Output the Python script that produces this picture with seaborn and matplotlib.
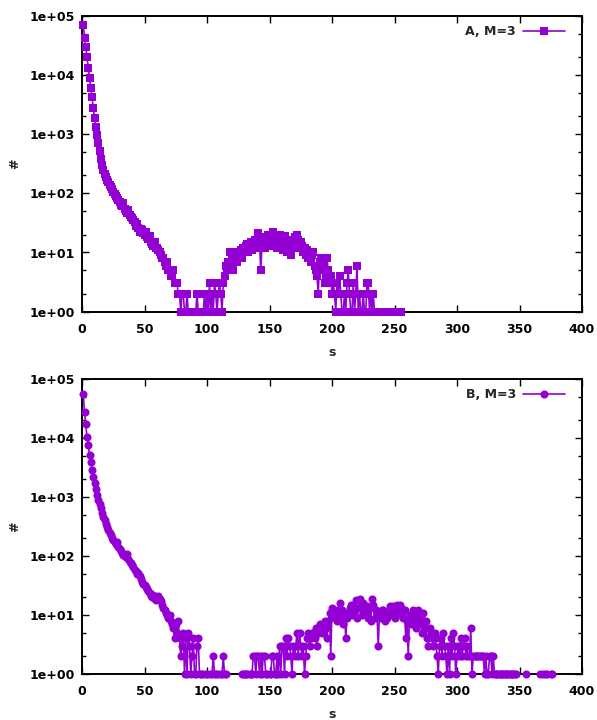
import numpy as np
import pandas as pd
import matplotlib
matplotlib.use("Agg")
import matplotlib.pyplot as plt
import matplotlib.ticker as mticker
import seaborn as sns

# ---------------- data (counts per s, 0 = no entry) ----------------
counts_A = [
    70000, 42000, 30000, 20000, 13000, 9000, 6000, 4200, 2800, 1900,
    1300, 950, 700, 520, 380, 300, 250, 215, 190, 170,
    155, 140, 128, 118, 105, 98, 90, 82, 76, 70,
    64, 60, 68, 55, 50, 47, 52, 43, 40, 38,
    35, 33, 28, 30, 26, 22, 25, 24, 21, 20,
    22, 18, 17, 19, 15, 14, 13, 15, 12, 12,
    11, 10, 9, 8, 8, 7, 6, 7, 5, 5,
    4, 4, 5, 3, 3, 3, 2, 2, 1, 2,
    2, 1, 1, 2, 1, 1, 0, 1, 1, 1,
    1, 2, 1, 0, 0, 1, 1, 2, 1, 2,
    1, 3, 1, 2, 1, 3, 2, 1, 2, 3,
    2, 1, 3, 4, 6, 5, 7, 10, 6, 8,
    5, 9, 8, 7, 10, 9, 11, 8, 12, 10,
    13, 14, 10, 12, 15, 11, 13, 16, 12, 14,
    21, 15, 5, 13, 18, 12, 16, 14, 20, 13,
    17, 15, 22, 14, 18, 12, 16, 20, 13, 17,
    11, 19, 14, 10, 16, 13, 9, 15, 12, 18,
    14, 20, 16, 12, 15, 13, 10, 12, 9, 11,
    8, 10, 7, 9, 10, 6, 5, 4, 2, 7,
    8, 5, 6, 3, 4, 8, 5, 3, 4, 2,
    3, 2, 1, 3, 2, 4, 2, 1, 1, 2,
    1, 3, 5, 2, 1, 1, 3, 1, 2, 6,
    1, 2, 1, 1, 2, 1, 1, 3, 3, 1,
    2, 1, 2, 1, 1, 0, 1, 0, 1, 1,
    0, 1, 1, 0, 1, 0, 1, 1, 0, 1,
    0, 1, 0, 1, 1,
]

counts_B = [
    55000, 28000, 17000, 10500, 7600, 5100, 3900, 2900, 2200, 1700,
    1350, 1100, 900, 760, 640, 540, 460, 400, 350, 310,
    280, 250, 225, 205, 190, 175, 160, 170, 140, 130,
    120, 112, 105, 100, 96, 110, 88, 80, 76, 70,
    66, 58, 55, 50, 52, 46, 40, 36, 34, 32,
    30, 28, 26, 24, 21, 20, 22, 19, 18, 20,
    21, 19, 17, 15, 13, 12, 11, 10, 9, 10,
    8, 7, 6, 4, 7, 5, 8, 4, 2, 3,
    5, 1, 4, 1, 5, 3, 1, 2, 4, 1,
    1, 3, 4, 1, 1, 0, 1, 0, 1, 1,
    0, 1, 0, 1, 2, 1, 1, 0, 1, 0,
    1, 1, 2, 1, 1, 0, 0, 0, 0, 0,
    0, 0, 0, 0, 0, 0, 0, 1, 1, 1,
    1, 1, 0, 1, 1, 1, 2, 2, 1, 2,
    2, 1, 2, 1, 2, 2, 1, 1, 0, 1,
    1, 2, 2, 1, 1, 2, 1, 3, 1, 3,
    3, 1, 4, 2, 4, 3, 2, 1, 3, 2,
    3, 5, 2, 5, 3, 2, 3, 1, 2, 4,
    5, 3, 4, 5, 5, 4, 6, 3, 5, 7,
    6, 5, 7, 8, 6, 4, 8, 11, 2, 13,
    10, 9, 12, 8, 10, 16, 9, 12, 7, 11,
    4, 9, 11, 13, 15, 10, 14, 12, 18, 9,
    13, 19, 14, 10, 16, 12, 11, 14, 9, 13,
    8, 19, 15, 9, 12, 10, 3, 11, 9, 12,
    12, 8, 10, 9, 11, 14, 13, 10, 14, 9,
    12, 15, 11, 15, 13, 10, 9, 12, 4, 8,
    2, 10, 7, 9, 12, 8, 6, 10, 12, 7,
    9, 5, 11, 6, 8, 4, 3, 6, 5, 4,
    3, 5, 4, 2, 1, 3, 4, 2, 5, 3,
    2, 1, 3, 1, 4, 2, 5, 3, 1, 2,
    3, 2, 4, 2, 3, 4, 2, 3, 2, 2,
    6, 1, 2, 2, 2, 2, 2, 2, 2, 2,
    2, 1, 2, 1, 1, 2, 2, 1, 2, 1,
    1, 1, 1, 1, 1, 1, 1, 1, 1, 1,
    1, 1, 1, 1, 1, 1, 1, 0, 0, 0,
    0, 0, 0, 0, 1, 0, 0, 0, 0, 0,
    0, 0, 0, 0, 0, 1, 0, 0, 1, 1,
    0, 1, 0, 0, 1, 1,
]

labels = ["A, M=3", "B, M=3"]
markers = ["s", "o"]
x_ticks = [0, 50, 100, 150, 200, 250, 300, 350, 400]
y_ticks = [1, 10, 100, 1000, 10000, 100000]

PURPLE = "#9400D3"

sns.set_style("ticks")
plt.rcParams["font.family"] = ["DejaVu Sans"]
plt.rcParams["font.weight"] = "bold"


def make_frame(counts):
    s = np.arange(1, len(counts) + 1)
    c = np.asarray(counts, dtype=float)
    seg = np.cumsum(c == 0)
    df = pd.DataFrame({"s": s, "count": c, "seg": seg})
    return df[df["count"] > 0]


fig = plt.figure(figsize=(5.97, 7.2), dpi=100)
W, H = 597.0, 720.0
ax1 = fig.add_axes([82 / W, 1 - 311.7 / H, 500 / W, 296 / H])
ax2 = fig.add_axes([82 / W, 1 - 674 / H, 500 / W, 295 / H])

for ax, counts, lab, mk, msz in [
    (ax1, counts_A, labels[0], markers[0], 5.6),
    (ax2, counts_B, labels[1], markers[1], 5.8),
]:
    df = make_frame(counts)
    sns.lineplot(data=df, x="s", y="count", units="seg", estimator=None,
                 color=PURPLE, marker=mk, markersize=msz, markeredgewidth=0,
                 linewidth=1.2, ax=ax, label=lab, clip_on=False, zorder=3)
    ax.set_yscale("log")
    ax.set_xlim(0, 400)
    ax.set_ylim(1, 1e5)
    ax.set_xticks(x_ticks)
    ax.xaxis.set_minor_locator(mticker.NullLocator())
    ax.yaxis.set_major_locator(mticker.FixedLocator(y_ticks))
    ax.yaxis.set_minor_locator(mticker.LogLocator(base=10, subs=[2.0, 5.0]))
    ax.yaxis.set_minor_formatter(mticker.NullFormatter())
    ax.yaxis.set_major_formatter(mticker.FuncFormatter(lambda v, p: f"{v:.0e}"))
    ax.tick_params(which="both", direction="in", top=True, right=True,
                   width=1.0, colors="black", labelsize=9, pad=5)
    ax.tick_params(axis="x", which="major", pad=8)
    ax.tick_params(which="major", length=5)
    ax.tick_params(which="minor", length=3)
    for lbl in ax.get_xticklabels() + ax.get_yticklabels():
        lbl.set_fontweight("bold")
    for sp in ax.spines.values():
        sp.set_linewidth(1.4)
        sp.set_color("black")
        sp.set_visible(True)
    ax.set_xlabel("s", fontsize=9, fontweight="bold", labelpad=7)
    ax.set_ylabel("#", fontsize=9, fontweight="bold", labelpad=6)
    handles, labs = ax.get_legend_handles_labels()
    ax.legend(handles[:1], labs[:1], loc="upper right", frameon=False,
              bbox_to_anchor=(1 - 8 / 500, 1.0),
              markerfirst=False, handlelength=3.3, handletextpad=0.6,
              borderaxespad=0.35, prop={"size": 9, "weight": "bold"})

fig.savefig("out.png", dpi=100, facecolor="white")
